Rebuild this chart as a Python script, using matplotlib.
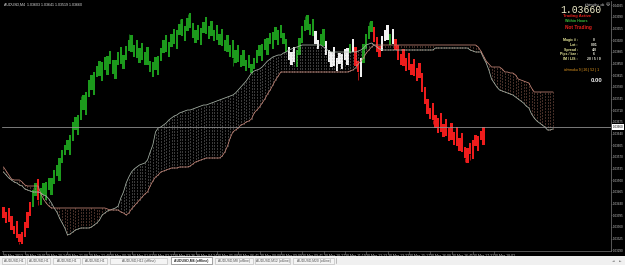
import matplotlib
matplotlib.use("Agg")
import matplotlib.pyplot as plt
import matplotlib.transforms as mtransforms
from matplotlib.patches import Rectangle

plt.rcParams["font.family"] = ["Liberation Sans", "DejaVu Sans"]
plt.rcParams["lines.scale_dashes"] = False

W, H = 625, 267

# ---- price bars ----
opens = [
    1.03420, 1.03372, 1.03417, 1.03393, 1.03339, 1.03378, 1.03339, 1.03309, 1.03330, 1.03357,
    1.03393, 1.03420, 1.03453, 1.03504, 1.03426, 1.03492, 1.03441, 1.03507, 1.03456, 1.03489,
    1.03546, 1.03498, 1.03552, 1.03576, 1.03621, 1.03576, 1.03618, 1.03690, 1.03636, 1.03681,
    1.03756, 1.03696, 1.03750, 1.03816, 1.03756, 1.03810, 1.03858, 1.03798, 1.03870, 1.03816,
    1.03888, 1.03861, 1.03804, 1.03846, 1.03900, 1.03834, 1.03861, 1.03888, 1.03936, 1.03870,
    1.03921, 1.03852, 1.03912, 1.03846, 1.03900, 1.03858, 1.03810, 1.03870, 1.03816, 1.03858,
    1.03882, 1.03936, 1.03870, 1.03900, 1.03954, 1.03894, 1.03936, 1.03984, 1.03918, 1.03948,
    1.04002, 1.03972, 1.03912, 1.03966, 1.03906, 1.03942, 1.03990, 1.03924, 1.03978, 1.03918,
    1.03966, 1.03906, 1.03954, 1.03888, 1.03936, 1.03870, 1.03921, 1.03852, 1.03906, 1.03840,
    1.03891, 1.03828, 1.03876, 1.03822, 1.03834, 1.03852, 1.03906, 1.03858, 1.03924, 1.03876,
    1.03942, 1.03894, 1.03960, 1.03906, 1.03966, 1.03942, 1.03924, 1.03900, 1.03846, 1.03900,
    1.03840, 1.03876, 1.03912, 1.03948, 1.03996, 1.03936, 1.03984, 1.03948, 1.03894, 1.03906,
    1.03954, 1.03918, 1.03891, 1.03840, 1.03900, 1.03828, 1.03882, 1.03834, 1.03894, 1.03846,
    1.03882, 1.03924, 1.03900, 1.03858, 1.03810, 1.03852, 1.03894, 1.03924, 1.03978, 1.03960,
    1.03930, 1.03870, 1.03888, 1.03918, 1.03966, 1.03906, 1.03954, 1.03924, 1.03906, 1.03846,
    1.03894, 1.03828, 1.03882, 1.03816, 1.03864, 1.03798, 1.03852, 1.03822, 1.03780, 1.03744,
    1.03684, 1.03732, 1.03696, 1.03642, 1.03702, 1.03630, 1.03684, 1.03618, 1.03672, 1.03606,
    1.03660, 1.03588, 1.03642, 1.03600, 1.03552, 1.03612, 1.03564, 1.03636, 1.03588, 1.03648,
    1.03606,
]
closes = [
    1.03387, 1.03405, 1.03375, 1.03351, 1.03363, 1.03327, 1.03315, 1.03345, 1.03375, 1.03405,
    1.03435, 1.03471, 1.03492, 1.03441, 1.03477, 1.03456, 1.03495, 1.03471, 1.03507, 1.03531,
    1.03513, 1.03567, 1.03591, 1.03606, 1.03591, 1.03636, 1.03675, 1.03651, 1.03696, 1.03741,
    1.03711, 1.03765, 1.03801, 1.03771, 1.03825, 1.03843, 1.03813, 1.03855, 1.03831, 1.03873,
    1.03849, 1.03819, 1.03861, 1.03885, 1.03849, 1.03876, 1.03903, 1.03921, 1.03885, 1.03906,
    1.03867, 1.03897, 1.03861, 1.03885, 1.03846, 1.03825, 1.03855, 1.03831, 1.03873, 1.03897,
    1.03921, 1.03885, 1.03915, 1.03939, 1.03909, 1.03951, 1.03969, 1.03933, 1.03963, 1.03987,
    1.03957, 1.03927, 1.03951, 1.03921, 1.03957, 1.03975, 1.03939, 1.03963, 1.03933, 1.03951,
    1.03921, 1.03939, 1.03903, 1.03921, 1.03885, 1.03906, 1.03867, 1.03891, 1.03855, 1.03876,
    1.03843, 1.03861, 1.03837, 1.03849, 1.03867, 1.03891, 1.03873, 1.03909, 1.03891, 1.03927,
    1.03909, 1.03945, 1.03921, 1.03951, 1.03927, 1.03909, 1.03885, 1.03861, 1.03885, 1.03855,
    1.03891, 1.03927, 1.03963, 1.03981, 1.03951, 1.03969, 1.03933, 1.03909, 1.03921, 1.03939,
    1.03903, 1.03876, 1.03855, 1.03885, 1.03843, 1.03867, 1.03849, 1.03879, 1.03861, 1.03897,
    1.03909, 1.03885, 1.03843, 1.03825, 1.03867, 1.03909, 1.03939, 1.03963, 1.03945, 1.03915,
    1.03885, 1.03903, 1.03933, 1.03951, 1.03921, 1.03939, 1.03909, 1.03891, 1.03861, 1.03879,
    1.03843, 1.03867, 1.03831, 1.03849, 1.03813, 1.03837, 1.03807, 1.03765, 1.03729, 1.03699,
    1.03717, 1.03681, 1.03657, 1.03687, 1.03645, 1.03669, 1.03633, 1.03657, 1.03621, 1.03645,
    1.03603, 1.03627, 1.03585, 1.03567, 1.03597, 1.03579, 1.03621, 1.03603, 1.03633, 1.03621,
    1.03660,
]
# bar colour state: G above cloud, R below cloud, W inside cloud
bar_state_runs = [("R", 11), ("G", 2), ("R", 1), ("G", 93), ("W", 3), ("G", 7), ("W", 2),
                  ("G", 2), ("W", 9), ("G", 1), ("W", 1), ("R", 2), ("W", 1), ("G", 4),
                  ("R", 3), ("W", 3), ("G", 1), ("W", 1), ("R", 34)]
wick_high = {29: 1.03753, 47: 1.03939, 66: 1.03984, 69: 1.03999, 113: 1.03993, 137: 1.03975}
wick_low = {6: 1.03309, 13: 1.03426, 86: 1.03843, 93: 1.03819, 133: 1.03801,
            161: 1.03669, 173: 1.03555, 175: 1.03561}

# ---- Ichimoku cloud (one value per bar, 25 bars ahead of price) ----
span_a = [
    1.03525, 1.03516, 1.03507, 1.03501, 1.03495, 1.03492, 1.03486, 1.03483, 1.03474, 1.03471,
    1.03468, 1.03465, 1.03465, 1.03465, 1.03462, 1.03456, 1.03453, 1.03444, 1.03432, 1.03417,
    1.03405, 1.03387, 1.03372, 1.03357, 1.03336, 1.03339, 1.03345, 1.03351, 1.03354, 1.03357,
    1.03357, 1.03357, 1.03357, 1.03360, 1.03366, 1.03372, 1.03381, 1.03396, 1.03402, 1.03408,
    1.03411, 1.03414, 1.03417, 1.03423, 1.03447, 1.03465, 1.03492, 1.03510, 1.03525, 1.03534,
    1.03540, 1.03546, 1.03549, 1.03552, 1.03561, 1.03585, 1.03606, 1.03645, 1.03657, 1.03660,
    1.03666, 1.03672, 1.03681, 1.03687, 1.03693, 1.03696, 1.03702, 1.03705, 1.03708, 1.03711,
    1.03711, 1.03714, 1.03717, 1.03720, 1.03723, 1.03726, 1.03726, 1.03729, 1.03732, 1.03735,
    1.03738, 1.03741, 1.03744, 1.03747, 1.03750, 1.03753, 1.03756, 1.03762, 1.03771, 1.03780,
    1.03789, 1.03798, 1.03810, 1.03822, 1.03828, 1.03831, 1.03834, 1.03840, 1.03849, 1.03858,
    1.03864, 1.03870, 1.03873, 1.03876, 1.03876, 1.03882, 1.03885, 1.03891, 1.03894, 1.03897,
    1.03900, 1.03903, 1.03906, 1.03906, 1.03906, 1.03906, 1.03906, 1.03906, 1.03906, 1.03906,
    1.03900, 1.03894, 1.03888, 1.03885, 1.03885, 1.03885, 1.03885, 1.03885, 1.03885, 1.03885,
    1.03885, 1.03885, 1.03885, 1.03888, 1.03891, 1.03897, 1.03906, 1.03909, 1.03912, 1.03906,
    1.03900, 1.03894, 1.03891, 1.03891, 1.03891, 1.03891, 1.03891, 1.03891, 1.03891, 1.03891,
    1.03891, 1.03891, 1.03891, 1.03891, 1.03891, 1.03891, 1.03891, 1.03891, 1.03891, 1.03891,
    1.03891, 1.03891, 1.03897, 1.03897, 1.03897, 1.03897, 1.03897, 1.03897, 1.03897, 1.03897,
    1.03897, 1.03897, 1.03897, 1.03897, 1.03897, 1.03891, 1.03888, 1.03885, 1.03885, 1.03885,
    1.03867, 1.03852, 1.03831, 1.03804, 1.03792, 1.03780, 1.03771, 1.03768, 1.03765, 1.03762,
    1.03759, 1.03756, 1.03750, 1.03744, 1.03738, 1.03732, 1.03723, 1.03717, 1.03699, 1.03687,
    1.03678, 1.03672, 1.03666, 1.03660, 1.03651, 1.03651, 1.03654,
]
span_b = [
    1.03540, 1.03528, 1.03516, 1.03504, 1.03501, 1.03501, 1.03501, 1.03495, 1.03486, 1.03483,
    1.03483, 1.03483, 1.03483, 1.03483, 1.03459, 1.03444, 1.03432, 1.03423, 1.03417, 1.03417,
    1.03417, 1.03417, 1.03417, 1.03417, 1.03417, 1.03417, 1.03417, 1.03417, 1.03417, 1.03417,
    1.03417, 1.03417, 1.03417, 1.03417, 1.03417, 1.03417, 1.03417, 1.03417, 1.03417, 1.03414,
    1.03411, 1.03411, 1.03411, 1.03411, 1.03405, 1.03402, 1.03396, 1.03402, 1.03414, 1.03423,
    1.03432, 1.03441, 1.03450, 1.03459, 1.03465, 1.03483, 1.03498, 1.03510, 1.03516, 1.03525,
    1.03528, 1.03531, 1.03534, 1.03537, 1.03537, 1.03537, 1.03540, 1.03540, 1.03540, 1.03540,
    1.03543, 1.03549, 1.03555, 1.03558, 1.03561, 1.03564, 1.03567, 1.03567, 1.03567, 1.03567,
    1.03567, 1.03567, 1.03573, 1.03585, 1.03603, 1.03627, 1.03645, 1.03651, 1.03657, 1.03666,
    1.03669, 1.03675, 1.03678, 1.03684, 1.03702, 1.03711, 1.03720, 1.03732, 1.03744, 1.03759,
    1.03771, 1.03786, 1.03801, 1.03813, 1.03825, 1.03825, 1.03825, 1.03825, 1.03825, 1.03825,
    1.03825, 1.03825, 1.03825, 1.03825, 1.03825, 1.03825, 1.03825, 1.03825, 1.03825, 1.03825,
    1.03825, 1.03825, 1.03825, 1.03825, 1.03825, 1.03825, 1.03825, 1.03825, 1.03825, 1.03825,
    1.03828, 1.03831, 1.03837, 1.03849, 1.03858, 1.03867, 1.03882, 1.03891, 1.03900, 1.03906,
    1.03906, 1.03906, 1.03906, 1.03906, 1.03906, 1.03906, 1.03906, 1.03906, 1.03906, 1.03906,
    1.03906, 1.03906, 1.03906, 1.03906, 1.03906, 1.03906, 1.03906, 1.03906, 1.03906, 1.03906,
    1.03906, 1.03906, 1.03906, 1.03906, 1.03906, 1.03906, 1.03906, 1.03906, 1.03906, 1.03906,
    1.03906, 1.03906, 1.03906, 1.03906, 1.03906, 1.03906, 1.03906, 1.03906, 1.03900, 1.03888,
    1.03873, 1.03858, 1.03849, 1.03840, 1.03840, 1.03840, 1.03840, 1.03834, 1.03825, 1.03825,
    1.03822, 1.03822, 1.03816, 1.03804, 1.03801, 1.03798, 1.03795, 1.03792, 1.03777, 1.03765,
    1.03765, 1.03765, 1.03765, 1.03765, 1.03765, 1.03765, 1.03765,
]

bid = 1.03660
price_ticks = [1.04025, 1.03990, 1.03955, 1.03920, 1.03885, 1.03850, 1.03815, 1.03780,
               1.03745, 1.03710, 1.03675, 1.03640, 1.03605, 1.03570, 1.03535, 1.03500,
               1.03465, 1.03430, 1.03395, 1.03360, 1.03325, 1.03290]
time_labels = ["29 Mar 2013", "29 Mar 19:01", "29 Mar 20:24", "29 Mar 21:08", "29 Mar 22:40",
               "30 Mar 00:28", "30 Mar 01:02", "30 Mar 02:37", "30 Mar 03:36", "30 Mar 04:24",
               "30 Mar 05:08", "30 Mar 06:41", "30 Mar 08:08", "30 Mar 09:09", "30 Mar 09:41",
               "30 Mar 10:27", "30 Mar 11:19", "30 Mar 12:13", "30 Mar 13:22", "30 Mar 15:17",
               "30 Mar 16:08", "30 Mar 16:45", "30 Mar 17:31", "30 Mar 18:02"]
bars_per_label = 8
tab_labels = ["AUDUSD,H1", "AUDUSD,H1", "AUDUSD,H1", "AUDUSD,H1", "AUDUSD,H12 (offline)",
              "AUDUSD,M4 (offline)", "AUDUSD,M8 (offline)", "AUDUSD,M12 (offline)",
              "AUDUSD,M20 (offline)"]
active_tab = 5

GREEN, RED, WHITE = "#1c9a1c", "#ee1c1c", "#f0f0f0"
SPAN_A_C, SPAN_B_C = "#aab6aa", "#c9887a"


def px(x, y):
    return x / W, 1 - y / H


fig = plt.figure(figsize=(W / 100, H / 100), dpi=100)
fig.patch.set_facecolor("black")

# chart area: pixels x 2..611, y 1..251
ax = fig.add_axes([2 / W, 16 / H, 609 / W, 250 / H])
ax.set_facecolor("black")
ax.set_xlim(-0.56, 227.8)
ax.set_ylim(1.03288, 1.04038)

# cloud: dotted histogram between the spans, coloured by the span on top
cx = list(range(len(span_a)))
for i in cx:
    lo, hi = sorted((span_a[i], span_b[i]))
    col = "#a8a8a8" if span_a[i] >= span_b[i] else "#c4826f"
    ax.vlines(i, lo, hi, colors=col, lw=0.5, linestyles=(0, (0.72, 1.44)))
ax.plot(cx, span_a, color=SPAN_A_C, lw=0.55)
ax.plot(cx, span_b, color=SPAN_B_C, lw=0.55)

# bid line
ax.axhline(bid, color="#9a9a9a", lw=0.55)

# bars
states = "".join(s * n for s, n in bar_state_runs)
cmap = {"G": GREEN, "R": RED, "W": WHITE}
colors = [cmap[s] for s in states]
xs = list(range(len(closes)))
for i, c in wick_high.items():
    ax.vlines(i, max(opens[i], closes[i]), c, colors=colors[i], lw=0.5)
for i, c in wick_low.items():
    ax.vlines(i, c, min(opens[i], closes[i]), colors=colors[i], lw=0.5)
ax.bar(xs, [c - o for o, c in zip(opens, closes)], bottom=opens, width=0.8,
       color=colors, linewidth=0)

for s in ("top", "left"):
    ax.spines[s].set_visible(False)
for s in ("bottom", "right"):
    ax.spines[s].set_color("#7a7a7a")
    ax.spines[s].set_linewidth(0.5)

ax.yaxis.tick_right()
ax.set_yticks(price_ticks)
ax.set_yticklabels([f"{p:.5f}" for p in price_ticks])
ax.tick_params(axis="y", colors="#7a7a7a", labelcolor="#c8c8c8", labelsize=2.15,
               length=1.0, width=0.4, pad=0.3)
ax.set_xticks([k * bars_per_label for k in range(len(time_labels))])
ax.set_xticklabels(time_labels, ha="left")
ax.tick_params(axis="x", colors="#7a7a7a", labelcolor="#c8c8c8", labelsize=2.5,
               length=2.0, width=0.4, pad=0.4)

trans = mtransforms.blended_transform_factory(ax.transAxes, ax.transData)
ax.text(1.0025, bid, f"{bid:.5f}", transform=trans, fontsize=2.15, color="black",
        va="center", ha="left", bbox=dict(fc="white", ec="none", pad=0.4))

# header
fig.text(*px(4, 4.5), "AUDUSD,M4  1.03603 1.03641 1.03519 1.03660", fontsize=2.6,
         color="#e0e0e0", va="center")

# EA info panel
fig.text(*px(605, 4), "ichimoku_ok", fontsize=2.6, color="#e0e0e0", ha="right", va="center")
fig.text(*px(608, 4), "\u263a", fontsize=3.0, color="#e0e0e0", ha="center", va="center",
         family="DejaVu Sans")
fig.text(*px(581, 10), "1.03660", fontsize=7, color="#f4f0cc", ha="center", va="center",
         family="Liberation Mono")
fig.text(*px(577, 16), "Trading Active", fontsize=3.0, color="#e8201c", ha="center",
         va="center", weight="bold")
fig.text(*px(576, 20.5), "Within Hours", fontsize=2.6, color="#3cc03c", ha="center",
         va="center", weight="bold")
fig.text(*px(578, 28), "Not Trading", fontsize=3.4, color="#e8201c", ha="center",
         va="center", weight="bold")
info_rows = [("Magic # :", "0"), ("Lot :", "0.01"), ("Spread :", "4.0"),
             ("Pips / bar :", "6"), ("IM / LIS :", "20 / 5 / 0")]
for k, (lab, val) in enumerate(info_rows):
    y = 40 + k * 4.8
    fig.text(*px(578, y), lab, fontsize=2.5, color="#ecec9c", ha="right", va="center",
             weight="bold")
    fig.text(*px(594, y), val, fontsize=2.5, color="#f0f0e0", ha="center", va="center",
             weight="bold")
fig.text(*px(582, 70), "ichimoku 9 | 26 | 52 | 1", fontsize=2.5, color="#f0a020",
         ha="center", va="center")
fig.text(*px(597, 80), "0.00", fontsize=4.2, color="#f0f0f0", ha="center", va="center",
         weight="bold")

# tab bar
axt = fig.add_axes([0, 0, 1, 11 / H])
axt.set_xlim(0, W)
axt.set_ylim(11, 0)
axt.axis("off")
axt.add_patch(Rectangle((0, 0), W, 11, facecolor="#f0f0f0", edgecolor="none"))
axt.add_patch(Rectangle((0, 8.5), W, 2.5, facecolor="#ffffff", edgecolor="none"))
tab_edges = [(2, 25), (27, 50), (53, 80), (82, 107), (110, 167), (171, 212), (215, 253),
             (255, 290), (293, 334)]
for k, ((x0, x1), lab) in enumerate(zip(tab_edges, tab_labels)):
    act = k == active_tab
    axt.add_patch(Rectangle((x0, 1.2 if act else 1.6), x1 - x0, 6.4,
                            facecolor="#ffffff" if act else "#f4f4f4",
                            edgecolor="#606060" if act else "#b4b4b4", lw=0.4))
    axt.text((x0 + x1) / 2, 4.8, lab, fontsize=2.4, color="#202020" if act else "#505050",
             ha="center", va="center", weight="bold" if act else "normal")
axt.plot([336, 336], [2, 7], color="#909090", lw=0.4)
axt.text(613, 4.8, "\u25c4", fontsize=2.4, color="#707070", ha="center", va="center",
         family="DejaVu Sans")
axt.text(620, 4.8, "\u25ba", fontsize=2.4, color="#707070", ha="center", va="center",
         family="DejaVu Sans")

fig.savefig("out.png", dpi=100, facecolor=fig.get_facecolor())
